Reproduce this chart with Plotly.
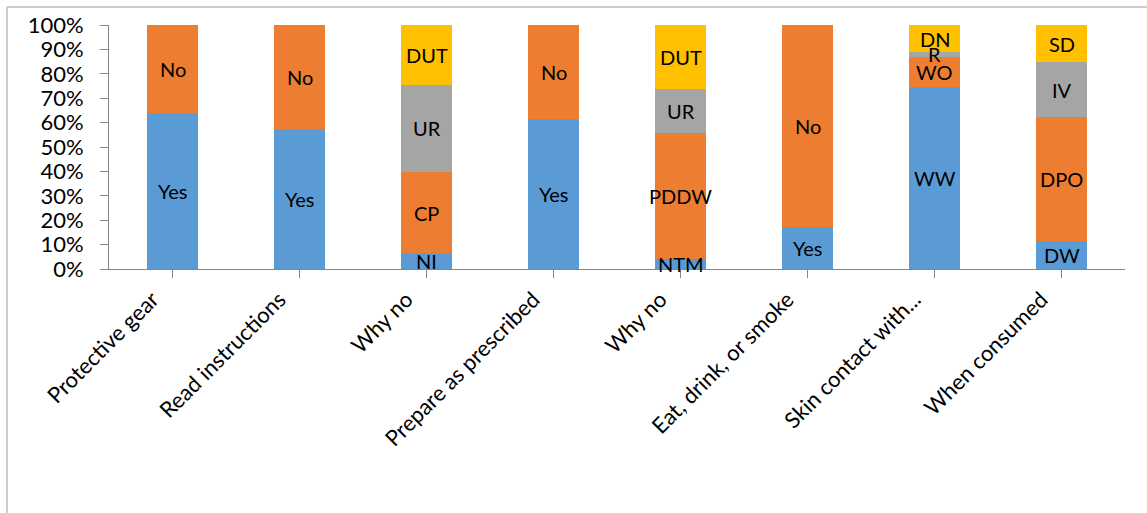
import plotly.graph_objects as go

# Survey items (x-axis categories)
categories = [
    "Protective gear", "Read instructions", "Why no", "Prepare as prescribed",
    "Why no", "Eat, drink, or smoke", "Skin contact with...", "When consumed",
]

# Percent shares per stacked layer, bottom to top
layer1 = [63.8, 57.3, 6.4, 61.5, 4.1, 17.1, 74.7, 11.5]
layer2 = [36.2, 42.7, 33.4, 38.5, 51.5, 82.9, 12.3, 50.7]
layer3 = [0.0, 0.0, 35.7, 0.0, 18.3, 0.0, 1.9, 22.5]
layer4 = [0.0, 0.0, 24.5, 0.0, 26.1, 0.0, 11.1, 15.3]

# Segment labels, bottom to top
labels1 = ["Yes", "Yes", "NI", "Yes", "NTM", "Yes", "WW", "DW"]
labels2 = ["No", "No", "CP", "No", "PDDW", "No", "WO", "DPO"]
labels3 = ["", "", "UR", "", "UR", "", "R", "IV"]
labels4 = ["", "", "DUT", "", "DUT", "", "DN", "SD"]

colors = ["#5B9BD5", "#ED7D31", "#A5A5A5", "#FFC000"]

layers = [layer1, layer2, layer3, layer4]
layer_labels = [labels1, labels2, labels3, labels4]

W, H = 1147, 513
ml, mr, mt, mb = 109, 22, 25, 244
pw, ph = W - ml - mr, H - mt - mb

# unique x positions so repeated category names stay separate bars
xpos = list(range(len(categories)))

fig = go.Figure()
for vals, col in zip(layers, colors):
    fig.add_trace(go.Bar(
        x=xpos, y=vals, marker=dict(color=col, line=dict(width=0)),
        width=0.4, hoverinfo="skip", showlegend=False,
    ))

annotations = []
base = [0.0] * len(categories)
for vals, labs in zip(layers, layer_labels):
    for i, (v, lab) in enumerate(zip(vals, labs)):
        if lab and v > 0:
            annotations.append(dict(
                x=xpos[i], y=base[i] + v / 2, xref="x", yref="y", text=lab,
                showarrow=False, font=dict(family="Lato", size=20, color="#000000"),
                xanchor="center", yanchor="middle",
            ))
        base[i] += v

# outer frame: top and left edges
def px_to_paper_x(px):
    return (px - ml) / pw

def px_to_paper_y(py):
    return (H - mb - py) / ph

shapes = [
    dict(type="line", xref="paper", yref="paper",
         x0=px_to_paper_x(7), x1=px_to_paper_x(W), y0=px_to_paper_y(7), y1=px_to_paper_y(7),
         line=dict(color="#BDBDBD", width=1.5)),
    dict(type="line", xref="paper", yref="paper",
         x0=px_to_paper_x(7), x1=px_to_paper_x(7), y0=px_to_paper_y(7), y1=px_to_paper_y(H),
         line=dict(color="#BDBDBD", width=1.5)),
]

fig.update_layout(
    barmode="stack",
    width=W, height=H,
    margin=dict(l=ml, r=mr, t=mt, b=mb, pad=0, autoexpand=False),
    paper_bgcolor="white", plot_bgcolor="white",
    font=dict(family="Lato", color="#000000"),
    annotations=annotations,
    shapes=shapes,
    xaxis=dict(
        tickmode="array", tickvals=xpos, ticktext=categories,
        range=[-0.5, len(categories) - 0.5],
        tickangle=-45, tickfont=dict(size=22, family="Lato"),
        ticklabelshift=-20, automargin=False,
        showline=True, linecolor="#868686", linewidth=1,
        ticks="outside", tickson="boundaries", ticklen=8, tickcolor="#868686",
        showgrid=False, zeroline=False,
    ),
    yaxis=dict(
        range=[0, 100], tickvals=list(range(0, 101, 10)),
        ticktext=[f"{v}%" for v in range(0, 101, 10)],
        tickfont=dict(size=22, family="Lato"),
        ticklabelstandoff=12, automargin=False,
        showline=True, linecolor="#868686", linewidth=1,
        ticks="outside", ticklen=8, tickcolor="#868686",
        showgrid=False, zeroline=False,
    ),
)

fig.write_html("out.html")
